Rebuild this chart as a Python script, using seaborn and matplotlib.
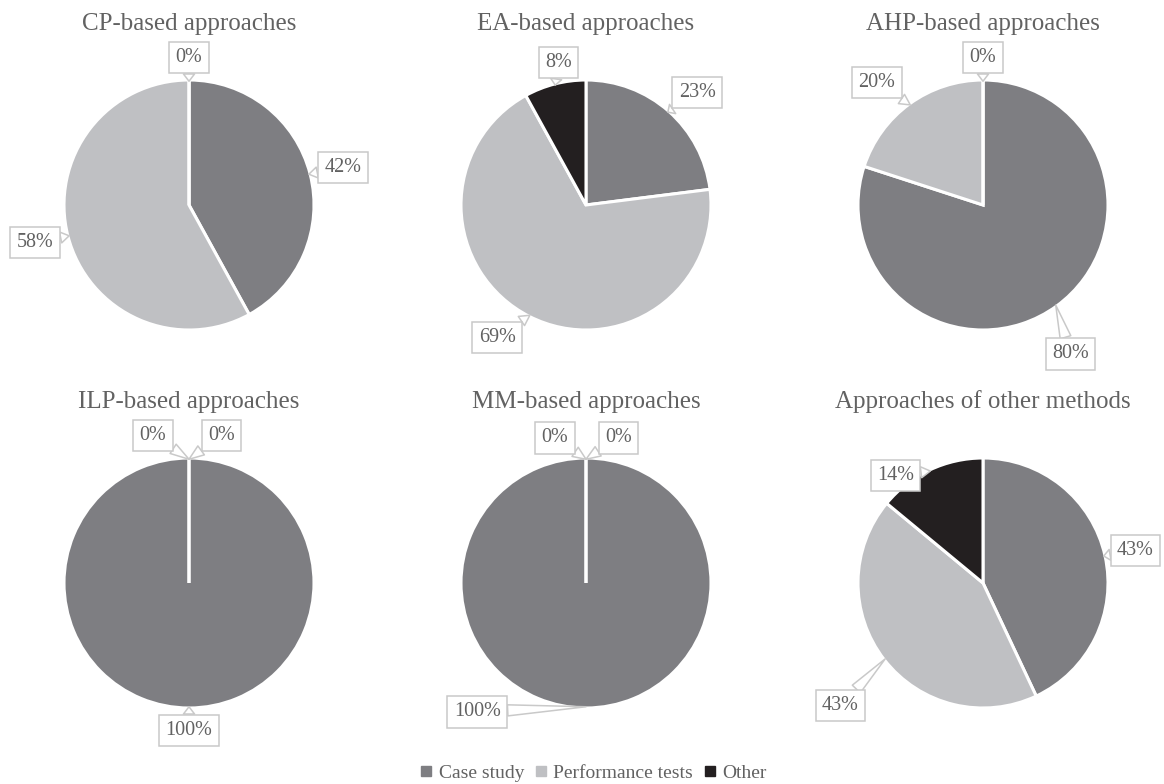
import numpy as np
import matplotlib
matplotlib.use("Agg")
import matplotlib.pyplot as plt
from matplotlib.lines import Line2D
import seaborn as sns

# ---- data ----
titles = ["CP-based approaches", "EA-based approaches", "AHP-based approaches",
          "ILP-based approaches", "MM-based approaches", "Approaches of other methods"]
categories = ["Case study", "Performance tests", "Other"]
cp_values = [42, 58, 0]
ea_values = [23, 69, 8]
ahp_values = [80, 20, 0]
ilp_values = [100, 0, 0]
mm_values = [100, 0, 0]
other_values = [43, 43, 14]
all_values = [cp_values, ea_values, ahp_values, ilp_values, mm_values, other_values]

# ---- style / layout ----
sns.set_theme(style="white")
plt.rcParams['font.family'] = ['Liberation Serif', 'DejaVu Serif']
colors = sns.color_palette(["#7e7e82", "#bfc0c3", "#231f20"])
text_color = "#626262"
box_edge = "#c9c9c9"

W, H = 1164, 784
R = 125.0          # pie radius in px
HALF = 185.0       # half size of each axes in px
L = HALF / R
centers = [(189, 205), (586, 205), (983, 205),
           (189, 583), (586, 583), (983, 583)]
title_y = [24, 24, 24, 402, 402, 402]

# label positions in radius units (relative to pie centre), one per slice
label_pos = [
    [(1.23, 0.30), (-1.23, -0.30), (0.0, 1.18)],
    [(0.89, 0.90), (-0.71, -1.06), (-0.22, 1.14)],
    [(0.70, -1.19), (-0.85, 0.98), (0.0, 1.18)],
    [(0.0, -1.18), (-0.29, 1.18), (0.26, 1.18)],
    [(-0.87, -1.03), (-0.25, 1.16), (0.26, 1.16)],
    [(1.22, 0.26), (-1.14, -0.98), (-0.70, 0.86)],
]

fig = plt.figure(figsize=(W / 100, H / 100), dpi=100)

for i, vals in enumerate(all_values):
    cx, cy = centers[i]
    ax = fig.add_axes([(cx - HALF) / W, (H - cy - HALF) / H, 2 * HALF / W, 2 * HALF / H])
    wedges, _ = ax.pie(vals, colors=colors, startangle=90, counterclock=False, radius=1,
                       wedgeprops=dict(edgecolor="white", linewidth=2.2))
    ax.set_xlim(-L, L)
    ax.set_ylim(-L, L)
    ax.set_aspect("equal")
    ax.axis("off")
    total = float(sum(vals))
    cum = 0.0
    for j, v in enumerate(vals):
        mid = 90 - (cum + v / 2.0) / total * 360.0
        cum += v
        tip = (np.cos(np.radians(mid)) * 0.99, np.sin(np.radians(mid)) * 0.99)
        lx, ly = label_pos[i][j]
        ax.annotate(f"{round(v / total * 100)}%", xy=tip, xytext=(lx, ly),
                    ha="center", va="center", fontsize=14.5, color=text_color,
                    bbox=dict(boxstyle="square,pad=0.32", fc="white", ec=box_edge, lw=1.1),
                    arrowprops=dict(arrowstyle="wedge,tail_width=0.55,shrink_factor=0.5",
                                    fc="white", ec=box_edge, lw=1.1, shrinkA=0, shrinkB=0),
                    annotation_clip=False, zorder=5)
    fig.text(cx / W, 1 - title_y[i] / H, titles[i], ha="center", va="center",
             fontsize=18, color=text_color)

handles = [Line2D([], [], marker="s", linestyle="none", markersize=6.5,
                  markerfacecolor=c, markeredgecolor=c) for c in colors]
fig.legend(handles, categories, loc="center", bbox_to_anchor=(593 / W, 1 - 773 / H),
           ncol=3, frameon=False, fontsize=14, handlelength=0.7, handletextpad=0.3,
           columnspacing=0.5, labelcolor=text_color)

fig.savefig("out.png", dpi=100)
